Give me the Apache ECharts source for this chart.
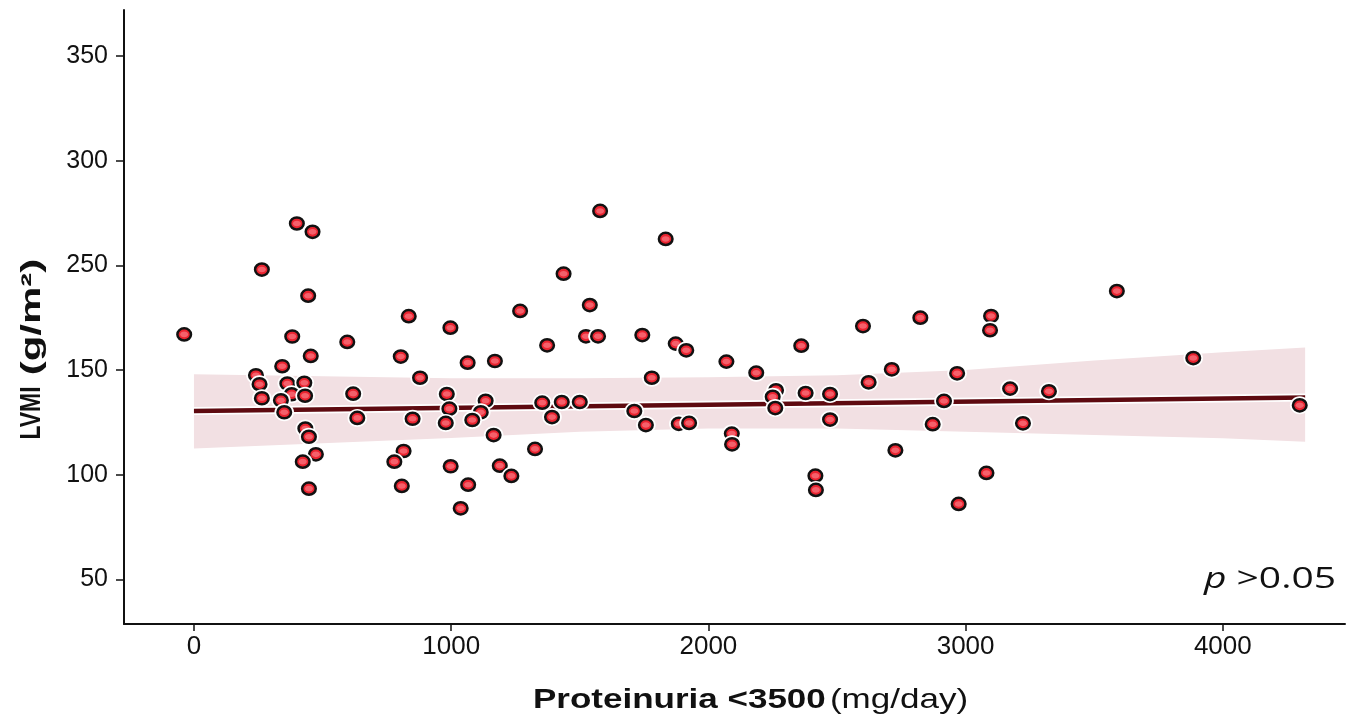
<!DOCTYPE html>
<html>
<head>
<meta charset="utf-8">
<script src="https://cdn.jsdelivr.net/npm/echarts/dist/echarts.min.js"></script>
<style>
html,body{margin:0;padding:0;background:#fff;}
#chart{width:1351px;height:722px;}
</style>
</head>
<body>
<div id="chart"></div>
<script>
// ---- data ----
const proteinuria = [-38,400,461,264,444,382,454,835,997,596,343,804,1064,1170,1268,241,255,264,363,429,380,432,338,351,619,635,879,983,993,979,850,1134,1115,1082,1165,433,447,474,423,815,779,998,1189,1234,447,808,1066,1037,1579,1834,1437,1539,1524,1571,1373,1743,1873,1914,2070,2186,2361,2601,2713,2623,1780,1354,1430,1500,1392,1712,1757,1885,1925,2263,2250,2260,2378,2473,2473,2091,2092,1326,2416,2418,2727,3588,2824,3099,3095,2967,3173,3324,3885,4299,2872,3223,3081,2973,2916];
const lvmi = [167,220,216,198,185.5,166,156.7,175.7,170.2,163.4,151.8,156.4,153.5,154.3,178.2,147.5,143.2,136.5,143.5,143.9,138.4,137.7,135.5,129.8,138.7,127.1,146.3,138.5,131.5,124.7,126.7,135.3,129.8,126.1,118.9,122,118.1,109.7,106.2,111.3,106.2,104,104.3,99.4,93.3,94.6,95.2,83.9,226,212.6,196,181,166.1,166.1,161.8,166.7,162.6,159.4,154,148.7,161.6,171,150.3,144.1,146.3,134.4,134.7,134.7,127.5,130.4,123.7,124.3,124.7,140.3,137.2,131.8,139,138.5,126.3,119.6,114.5,112.3,99.5,92.7,111.6,187.7,175,175.8,169,148.4,141.1,139.8,155.7,133.1,124.1,124.5,100.8,86,135.2];

const fitX = [0, 4320];
const fitY = [130.4, 136.8];

const bandX     = [0, 500, 1000, 1500, 2000, 2500, 3000, 3500, 4000, 4320];
const bandLower = [112.5, 115, 117.5, 120.5, 122, 122, 120.5, 119, 117.4, 115.7];
const bandUpper = [148, 147, 146, 146, 146.5, 147.5, 150, 154.5, 158.5, 160.8];

const xTickValues = [0, 1000, 2000, 3000, 4000];
const xTickLabels = ['0', '1000', '2000', '3000', '4000'];
const yTickValues = [50, 100, 150, 200, 250, 300];
const yTickLabels = ['50', '100', '150', '250', '300', '350'];

const xTitleBold = 'Proteinuria <3500';
const xTitleUnit = '(mg/day)';
const yTitleBold = 'LVMI';
const yTitleUnit = '(g/m²)';
const pItalic = 'p';
const pRest = ' >0.05';

// ---- chart ----
const chart = echarts.init(document.getElementById('chart'), null, {renderer: 'canvas'});
const FONT = '"Liberation Sans", Arial, Helvetica, sans-serif';

const option = {
  backgroundColor: '#ffffff',
  animation: false,
  grid: {left: 124, right: 6, top: 10, bottom: 98, containLabel: false},
  xAxis: {
    type: 'value',
    min: -272,
    max: 4475,
    splitLine: {show: false},
    axisLine: {show: true, onZero: false, lineStyle: {color: '#111', width: 2}},
    axisTick: {show: true, length: 7, lineStyle: {color: '#111', width: 1.5}, customValues: xTickValues},
    axisLabel: {
      customValues: xTickValues,
      formatter: v => xTickLabels[xTickValues.indexOf(v)],
      fontFamily: FONT, fontSize: 26, color: '#111', margin: 10
    }
  },
  yAxis: {
    type: 'value',
    min: 28.64,
    max: 322,
    splitLine: {show: false},
    axisLine: {show: true, onZero: false, lineStyle: {color: '#111', width: 2}},
    axisTick: {show: true, length: 8, lineStyle: {color: '#111', width: 1.5}, customValues: yTickValues},
    axisLabel: {
      customValues: yTickValues,
      formatter: v => yTickLabels[yTickValues.indexOf(v)],
      fontFamily: FONT, fontSize: 25, color: '#111', margin: 16
    }
  },
  series: [
    {
      type: 'custom',
      z: 1,
      data: bandX.map((x, i) => [x, bandLower[i], bandUpper[i]]),
      encode: {x: 0, y: [1, 2]},
      renderItem: function (params, api) {
        if (params.dataIndex !== 0) return null;
        const pts = [];
        for (let i = 0; i < bandX.length; i++) pts.push(api.coord([bandX[i], bandUpper[i]]));
        for (let i = bandX.length - 1; i >= 0; i--) pts.push(api.coord([bandX[i], bandLower[i]]));
        return {type: 'polygon', shape: {points: pts}, style: {fill: '#f2e0e3'}};
      },
      silent: true
    },
    {
      type: 'line', z: 2, symbol: 'none', silent: true,
      data: fitX.map((x, i) => [x, fitY[i]]),
      lineStyle: {color: '#ffffff', width: 8}
    },
    {
      type: 'line', z: 3, symbol: 'none', silent: true,
      data: fitX.map((x, i) => [x, fitY[i]]),
      lineStyle: {color: '#5e0a10', width: 4.5}
    },
    {
      type: 'custom', z: 4, silent: true,
      data: proteinuria.map((x, i) => [x, lvmi[i]]),
      encode: {x: 0, y: 1},
      renderItem: function (params, api) {
        const p = api.coord([api.value(0), api.value(1)]);
        return {
          type: 'group',
          children: [
            {type: 'ellipse', shape: {cx: p[0], cy: p[1], rx: 9.8, ry: 9.0}, style: {fill: '#ffffff'}},
            {type: 'ellipse', shape: {cx: p[0], cy: p[1], rx: 6.8, ry: 6.1}, style: {fill: '#ea2430', stroke: '#111111', lineWidth: 2.5}},
            {type: 'ellipse', shape: {cx: p[0], cy: p[1], rx: 4.0, ry: 2.8}, style: {fill: '#f4606b'}}
          ]
        };
      }
    }
  ],
  graphic: [
    {
      type: 'text', x: 533, y: 700, scaleX: 1.25, z: 10,
      style: {
        text: '{b|' + xTitleBold + '} {r|' + xTitleUnit + '}',
        verticalAlign: 'middle', align: 'left',
        rich: {
          b: {fontFamily: FONT, fontWeight: 'bold', fontSize: 28, fill: '#111', color: '#111'},
          r: {fontFamily: FONT, fontWeight: 'normal', fontSize: 28, fill: '#111', color: '#111'}
        },
        fill: '#111'
      }
    },
    {
      type: 'text', x: 32, y: 413, rotation: Math.PI / 2, scaleY: 1.25, z: 10,
      style: {
        text: yTitleBold, fontFamily: FONT, fontWeight: 'bold', fontSize: 23,
        fill: '#111', align: 'center', verticalAlign: 'middle'
      }
    },
    {
      type: 'text', x: 32, y: 317, rotation: Math.PI / 2, scaleX: 2.0, scaleY: 1.3, z: 10,
      style: {
        text: yTitleUnit, fontFamily: FONT, fontWeight: 'bold', fontSize: 21,
        fill: '#111', align: 'center', verticalAlign: 'middle'
      }
    },
    {
      type: 'text', x: 1336, y: 579, scaleX: 1.3, z: 10,
      style: {
        text: '{i|' + pItalic + '}{r|' + pRest + '}',
        align: 'right', verticalAlign: 'middle',
        rich: {
          i: {fontFamily: '"Open Sans", "Noto Sans", sans-serif', fontStyle: 'italic', fontSize: 30, fill: '#111', color: '#111'},
          r: {fontFamily: '"Open Sans", "Noto Sans", sans-serif', fontSize: 30, fill: '#111', color: '#111'}
        },
        fill: '#111'
      }
    }
  ]
};
chart.setOption(option);
</script>
</body>
</html>
